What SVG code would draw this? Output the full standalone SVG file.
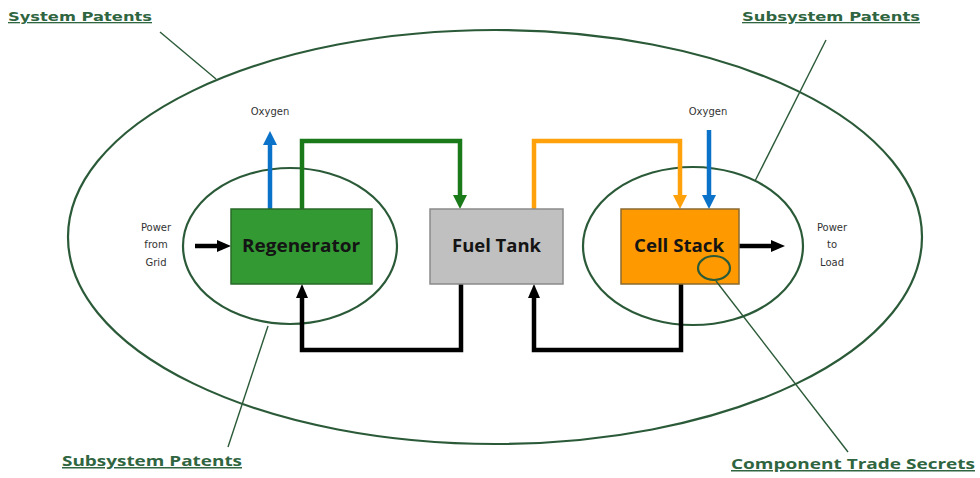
<svg xmlns="http://www.w3.org/2000/svg" width="980" height="478" viewBox="0 0 980 478">
<defs>
<style>
.ring{fill:none;stroke:#2b5a38;stroke-width:2.2}
.lead{fill:none;stroke:#2b5a38;stroke-width:1.4}
.lbl{font-family:"DejaVu Sans",Verdana,sans-serif;font-weight:bold;fill:#2f6540;text-decoration:underline}
.lbl2{font-family:"Open Sans","Liberation Sans",sans-serif;font-weight:bold;fill:#2f6540;text-decoration:underline}
.small{font-family:"DejaVu Sans",Verdana,sans-serif;font-size:10px;fill:#333}
.box{font-family:"Open Sans","Liberation Sans",sans-serif;font-weight:bold;font-size:17px;fill:#141414}
.flow{fill:none;stroke-width:4.5;stroke-linejoin:miter}
</style>
<marker id="aBlue" markerUnits="userSpaceOnUse" viewBox="0 0 14 14" refX="0" refY="7" markerWidth="14" markerHeight="14" orient="auto"><path d="M0,0 L14,7 L0,14 Z" fill="#0a72c8"/></marker>
<marker id="aGreen" markerUnits="userSpaceOnUse" viewBox="0 0 14 14" refX="0" refY="7" markerWidth="14" markerHeight="14" orient="auto"><path d="M0,0 L14,7 L0,14 Z" fill="#1a7a1a"/></marker>
<marker id="aOrange" markerUnits="userSpaceOnUse" viewBox="0 0 14 14" refX="0" refY="7" markerWidth="14" markerHeight="14" orient="auto"><path d="M0,0 L14,7 L0,14 Z" fill="#ffa10a"/></marker>
<marker id="aBlack" markerUnits="userSpaceOnUse" viewBox="0 0 14 12" refX="0" refY="6" markerWidth="14" markerHeight="12" orient="auto"><path d="M0,0 L14,6 L0,12 Z" fill="#000"/></marker>
</defs>
<rect width="980" height="478" fill="#fff"/>

<g id="scope-rings">
<ellipse class="ring" cx="495" cy="237" rx="427" ry="207"/>
<ellipse class="ring" cx="290" cy="246" rx="107" ry="78"/>
<ellipse class="ring" cx="693" cy="246" rx="110" ry="79"/>
</g>

<g id="connectors">
<path class="flow" stroke="#0a72c8" d="M270,209 V145" marker-end="url(#aBlue)"/>
<path class="flow" stroke="#1a7a1a" d="M302,209 V141 H460 V195" marker-end="url(#aGreen)"/>
<path class="flow" stroke="#ffa10a" d="M534,209 V141 H680 V195" marker-end="url(#aOrange)"/>
<path class="flow" stroke="#0a72c8" d="M709,130 V195" marker-end="url(#aBlue)"/>
<path class="flow" stroke="#000" stroke-width="4" d="M195,246 H217" marker-end="url(#aBlack)"/>
<path class="flow" stroke="#000" stroke-width="4" d="M739,246 H771" marker-end="url(#aBlack)"/>
<path class="flow" stroke="#000" stroke-width="4" d="M461,284 V350 H302 V298" marker-end="url(#aBlack)"/>
<path class="flow" stroke="#000" stroke-width="4" d="M681,284 V350 H534 V298" marker-end="url(#aBlack)"/>
</g>

<g id="regenerator">
<rect x="231" y="209" width="141" height="75" fill="#339933" stroke="#2a6a2a" stroke-width="1.5"/>
<text class="box" x="242" y="252" textLength="118" lengthAdjust="spacingAndGlyphs">Regenerator</text>
</g>
<g id="fuel-tank">
<rect x="430" y="209" width="133" height="75" fill="#c0c0c0" stroke="#8a8a8a" stroke-width="1.5"/>
<text class="box" x="452" y="252" textLength="89" lengthAdjust="spacingAndGlyphs">Fuel Tank</text>
</g>
<g id="cell-stack">
<rect x="621" y="209" width="118" height="75" fill="#ff9900" stroke="#8a6a30" stroke-width="1.5"/>
<text class="box" x="634" y="252" textLength="90" lengthAdjust="spacingAndGlyphs">Cell Stack</text>
<ellipse class="ring" cx="714" cy="268" rx="16" ry="12"/>
</g>

<g id="io-labels">
<text class="small" x="270" y="115" text-anchor="middle">Oxygen</text>
<text class="small" x="708" y="115" text-anchor="middle">Oxygen</text>
<text class="small" x="156" y="231" text-anchor="middle">Power</text>
<text class="small" x="156" y="248" text-anchor="middle">from</text>
<text class="small" x="156" y="266" text-anchor="middle">Grid</text>
<text class="small" x="832" y="231" text-anchor="middle">Power</text>
<text class="small" x="832" y="248" text-anchor="middle">to</text>
<text class="small" x="832" y="266" text-anchor="middle">Load</text>
</g>

<g id="callouts">
<line class="lead" x1="160" y1="32" x2="216" y2="79"/>
<line class="lead" x1="826" y1="40" x2="755" y2="181"/>
<line class="lead" x1="268" y1="326" x2="228" y2="447"/>
<line class="lead" x1="716" y1="281" x2="848" y2="452"/>
<text class="lbl" x="8" y="21" font-size="13" textLength="144" lengthAdjust="spacingAndGlyphs">System Patents</text>
<text class="lbl" x="742" y="21" font-size="13" textLength="178" lengthAdjust="spacingAndGlyphs">Subsystem Patents</text>
<text class="lbl2" x="62" y="466" font-size="15" textLength="180" lengthAdjust="spacingAndGlyphs">Subsystem Patents</text>
<text class="lbl2" x="731" y="469" font-size="15" textLength="244" lengthAdjust="spacingAndGlyphs">Component Trade Secrets</text>
</g>
</svg>
